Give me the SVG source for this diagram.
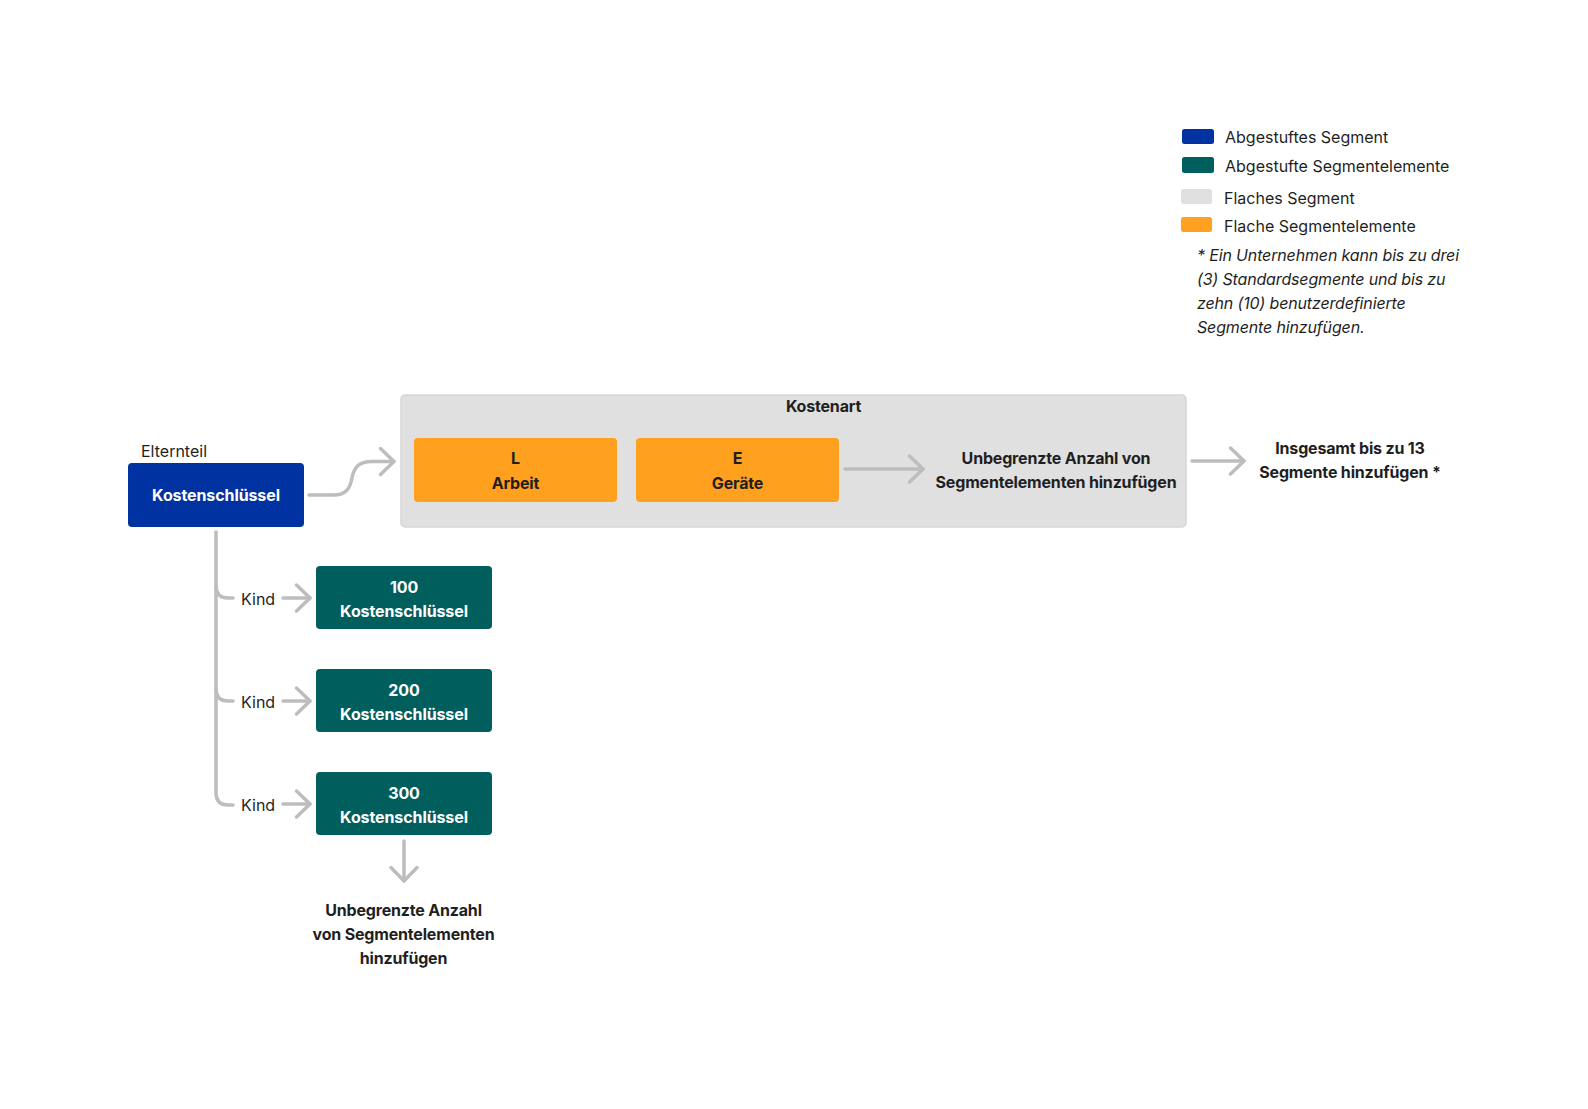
<svg xmlns="http://www.w3.org/2000/svg" width="1588" height="1109" viewBox="0 0 1588 1109">
<style>
text{font-family:Inter,"Noto Sans","Liberation Sans",sans-serif;font-size:16px;fill:#1f1f1f}
.b{font-weight:700;letter-spacing:-0.18px}
.w{fill:#ffffff;font-weight:700;letter-spacing:-0.1px}
.c{text-anchor:middle}
.i{font-style:italic;letter-spacing:-0.15px}
.conn{fill:none;stroke:#bdbdbd;stroke-width:3.5;stroke-linecap:round;stroke-linejoin:round}
.blue{fill:#0033a1}
.teal{fill:#005e5d}
.orange{fill:#ffa01e}
.gray{fill:#e0e0e0}
</style>
<defs>
<marker id="chev" viewBox="-17 -16 20 32" markerWidth="20" markerHeight="32" refX="0" refY="0" orient="auto" markerUnits="userSpaceOnUse">
<path d="M-13.5,-13 L0,0 L-13.5,13" fill="none" stroke="#bdbdbd" stroke-width="3.5" stroke-linecap="round" stroke-linejoin="round"/>
</marker>
</defs>
<rect width="1588" height="1109" fill="#ffffff"/>

<g id="legend">
<rect x="1182" y="129" width="32" height="15" rx="2.5" class="blue"/>
<text x="1225" y="143">Abgestuftes Segment</text>
<rect x="1182" y="157" width="32" height="16" rx="2.5" class="teal"/>
<text x="1225" y="171.5">Abgestufte Segmentelemente</text>
<rect x="1181" y="189" width="31" height="15" rx="2.5" class="gray"/>
<text x="1224" y="203.5">Flaches Segment</text>
<rect x="1181" y="217" width="31" height="15" rx="2.5" class="orange"/>
<text x="1224" y="231.5">Flache Segmentelemente</text>
<text x="1197" y="260.5" class="i">* Ein Unternehmen kann bis zu drei</text>
<text x="1197" y="284.5" class="i">(3) Standardsegmente und bis zu</text>
<text x="1197" y="308.5" class="i">zehn (10) benutzerdefinierte</text>
<text x="1197" y="332.5" class="i">Segmente hinzufügen.</text>
</g>

<g id="kostenart">
<rect x="401" y="395" width="785" height="132" rx="4" class="gray" stroke="#d6d6d6" stroke-width="1.5"/>
<text x="823.5" y="412" class="b c">Kostenart</text>
</g>

<g id="connectors">
<path class="conn" d="M309,495 H333 C347,495 350,488 352,478 C354,468 358,461.5 372,461.5 H394" marker-end="url(#chev)"/>
<path class="conn" d="M845,469 H923" marker-end="url(#chev)"/>
<path class="conn" d="M1192,461 H1244" marker-end="url(#chev)"/>
<path class="conn" d="M216,532 V793 Q216,805 228,805 H233"/>
<path class="conn" d="M216,586 Q216,598 228,598 H233"/>
<path class="conn" d="M216,689 Q216,701 228,701 H233"/>
<path class="conn" d="M283,598 H310" marker-end="url(#chev)"/>
<path class="conn" d="M283,701 H310" marker-end="url(#chev)"/>
<path class="conn" d="M283,804 H310" marker-end="url(#chev)"/>
<path class="conn" d="M404,841 V881" marker-end="url(#chev)"/>
</g>

<g id="parent">
<text x="141" y="457">Elternteil</text>
<rect x="128" y="463" width="176" height="64" rx="4" class="blue"/>
<text x="216" y="501" class="w c">Kostenschlüssel</text>
</g>

<g id="node-L">
<rect x="414" y="438" width="203" height="64" rx="4" class="orange"/>
<text x="515.5" y="464" class="b c">L</text>
<text x="515.5" y="488.5" class="b c">Arbeit</text>
</g>

<g id="node-E">
<rect x="636" y="438" width="203" height="64" rx="4" class="orange"/>
<text x="737.5" y="464" class="b c">E</text>
<text x="737.5" y="488.5" class="b c">Geräte</text>
</g>

<g id="unbegrenzt-flat">
<text x="1056" y="464" class="b c">Unbegrenzte Anzahl von</text>
<text x="1056" y="488" class="b c">Segmentelementen hinzufügen</text>
</g>

<g id="insgesamt">
<text x="1350" y="454" class="b c">Insgesamt bis zu 13</text>
<text x="1350" y="478" class="b c">Segmente hinzufügen *</text>
</g>

<g id="child-100">
<text x="241" y="604.5">Kind</text>
<rect x="316" y="566" width="176" height="63" rx="4" class="teal"/>
<text x="404" y="592.5" class="w c">100</text>
<text x="404" y="616.5" class="w c">Kostenschlüssel</text>
</g>

<g id="child-200">
<text x="241" y="707.5">Kind</text>
<rect x="316" y="669" width="176" height="63" rx="4" class="teal"/>
<text x="404" y="695.5" class="w c">200</text>
<text x="404" y="719.5" class="w c">Kostenschlüssel</text>
</g>

<g id="child-300">
<text x="241" y="810.5">Kind</text>
<rect x="316" y="772" width="176" height="63" rx="4" class="teal"/>
<text x="404" y="798.5" class="w c">300</text>
<text x="404" y="822.5" class="w c">Kostenschlüssel</text>
</g>

<g id="unbegrenzt-tree">
<text x="403.5" y="916" class="b c">Unbegrenzte Anzahl</text>
<text x="403.5" y="940" class="b c">von Segmentelementen</text>
<text x="403.5" y="964" class="b c">hinzufügen</text>
</g>
</svg>
